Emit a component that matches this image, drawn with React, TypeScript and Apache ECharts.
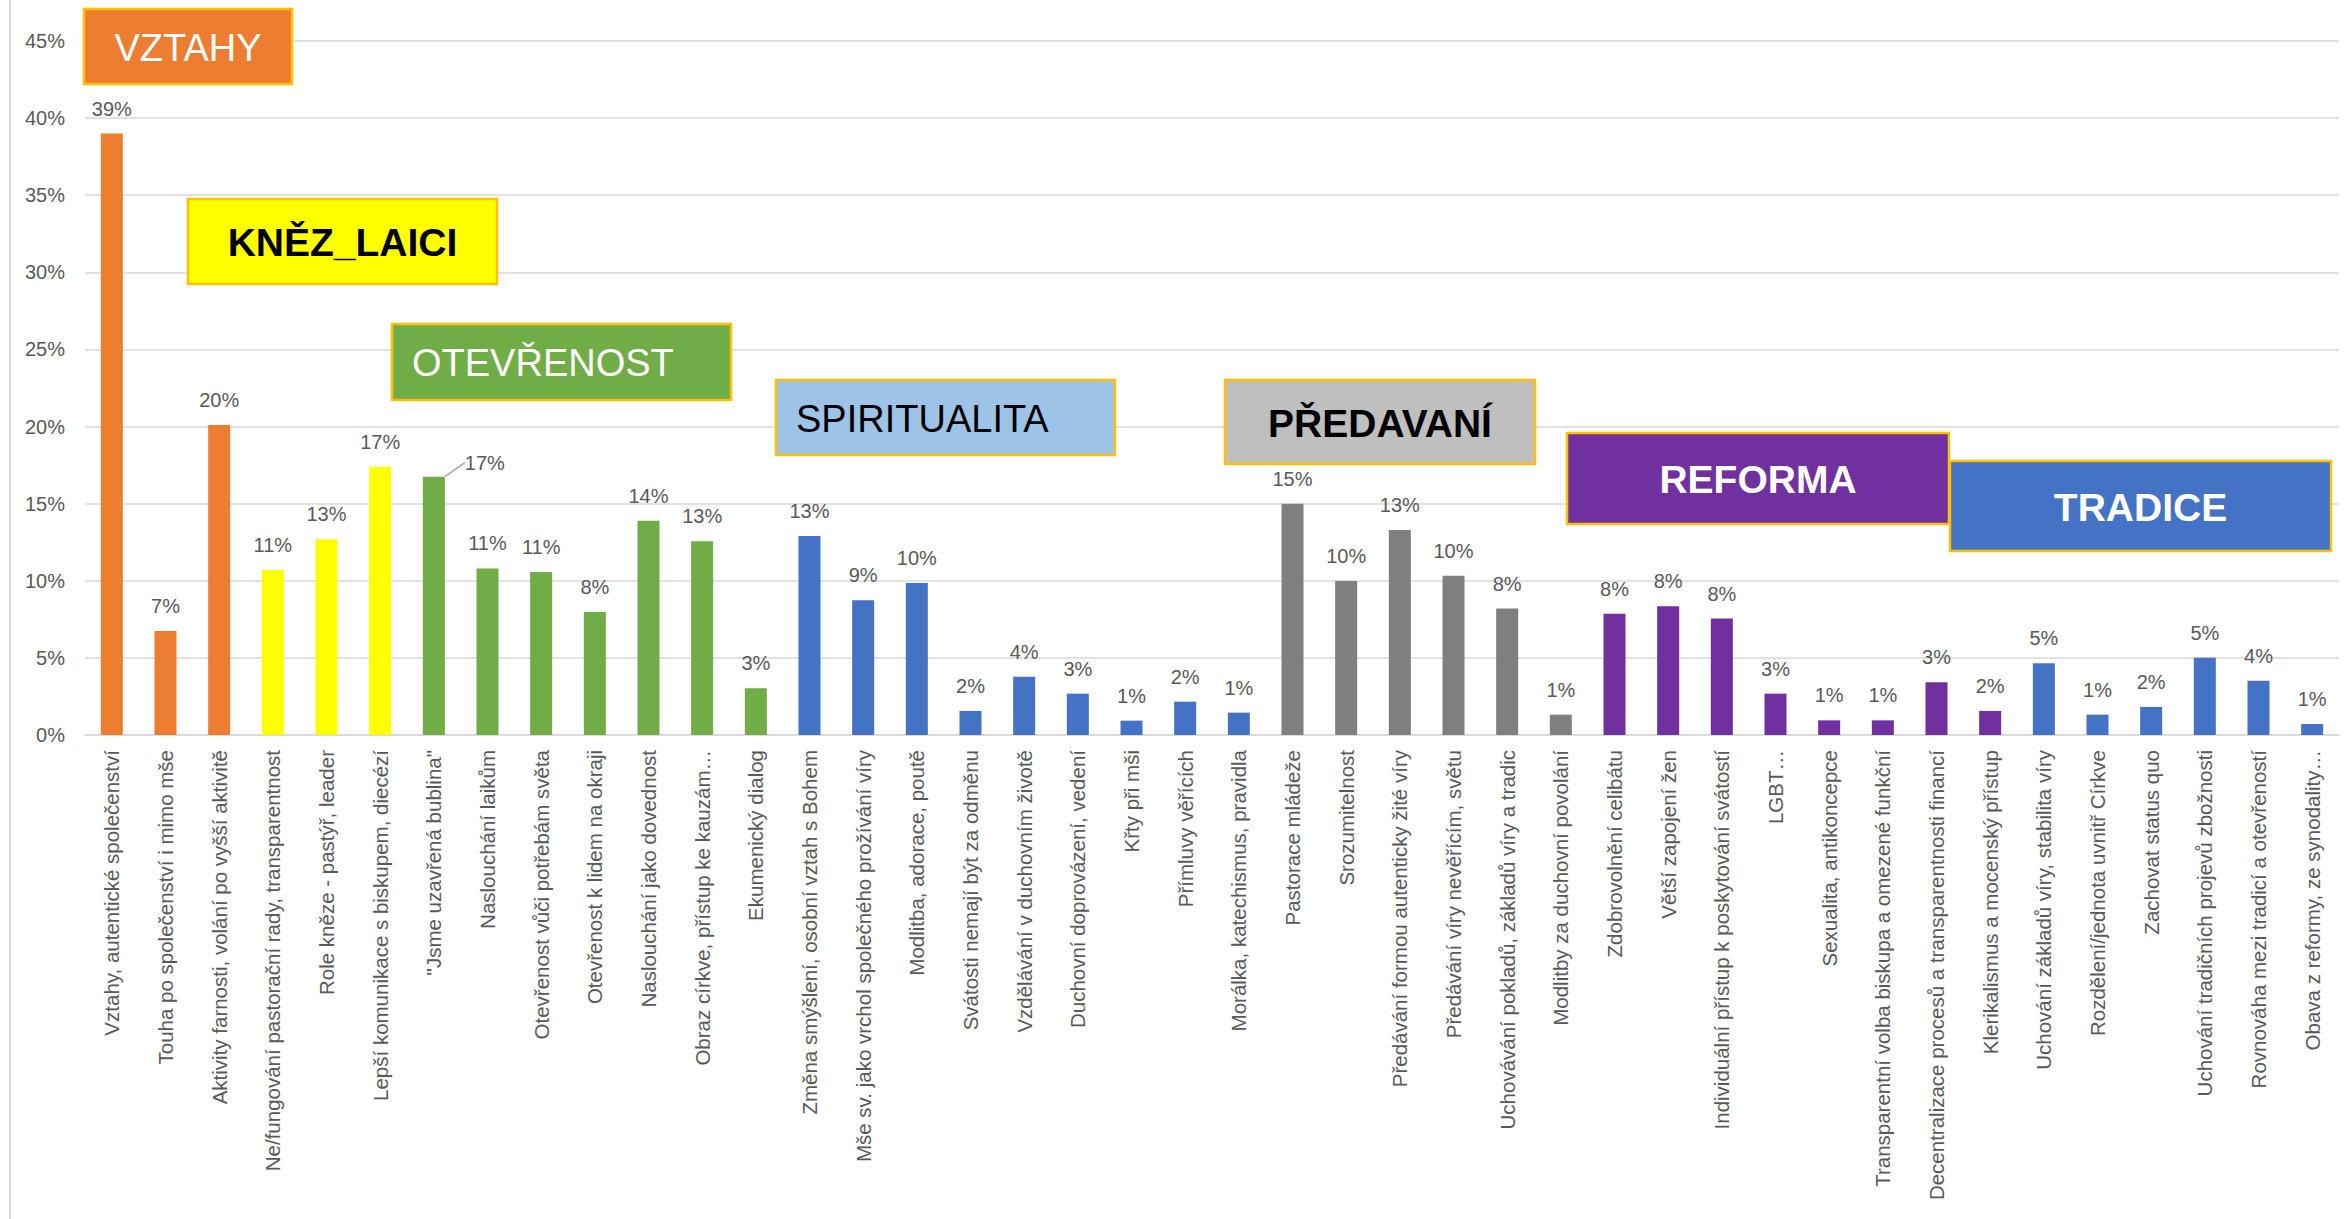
import React, { useEffect, useRef } from "react";
import * as echarts from "echarts";

const categories: string[] = [
  "Vztahy, autentické společenství",
  "Touha po společenství i mimo mše",
  "Aktivity farnosti, volání po vyšší aktivitě",
  "Ne/fungování pastorační rady, transparentnost",
  "Role kněze - pastýř, leader",
  "Lepší komunikace s biskupem, diecézí",
  "\"Jsme uzavřená bublina\"",
  "Naslouchání laikům",
  "Otevřenost vůči potřebám světa",
  "Otevřenost k lidem na okraji",
  "Naslouchání jako dovednost",
  "Obraz církve, přístup ke kauzám…",
  "Ekumenický dialog",
  "Změna smýšlení, osobní vztah s Bohem",
  "Mše sv. jako vrchol společného prožívání víry",
  "Modlitba, adorace, poutě",
  "Svátosti nemají být za odměnu",
  "Vzdělávání v duchovním životě",
  "Duchovní doprovázení, vedení",
  "Křty při mši",
  "Přímluvy věřících",
  "Morálka, katechismus, pravidla",
  "Pastorace mládeže",
  "Srozumitelnost",
  "Předávání formou autenticky žité víry",
  "Předávání víry nevěřícím, světu",
  "Uchovávání pokladů, základů víry a tradic",
  "Modlitby za duchovní povolání",
  "Zdobrovolnění celibátu",
  "Větší zapojení žen",
  "Individuální přístup k poskytování svátostí",
  "LGBT…",
  "Sexualita, antikoncepce",
  "Transparentní volba biskupa a omezené funkční",
  "Decentralizace procesů a transparentnosti financí",
  "Klerikalismus a mocenský přístup",
  "Uchování základů víry, stabilita víry",
  "Rozdělení/jednota uvnitř Církve",
  "Zachovat status quo",
  "Uchování tradičních projevů zbožnosti",
  "Rovnováha mezi tradicí a otevřeností",
  "Obava z reformy, ze synodality…",
];

// percent of respondents
const values: number[] = [
  39.0, 6.74, 20.1, 10.7, 12.7, 17.4, 16.75, 10.8, 10.57, 7.98, 13.9, 12.56, 3.03,
  12.9, 8.73, 9.86, 1.56, 3.78, 2.68, 0.93, 2.16, 1.45,
  15.0, 9.99, 13.3, 10.33, 8.2, 1.32,
  7.87, 8.35, 7.55, 2.68, 0.95, 0.95, 3.42, 1.56,
  4.65, 1.32, 1.82, 5.01, 3.52, 0.71,
];

const groupNames: string[] = [
  "VZTAHY", "KNĚZ_LAICI", "OTEVŘENOST", "SPIRITUALITA", "PŘEDAVANÍ", "REFORMA", "TRADICE",
];
const groupSizes: number[] = [3, 3, 7, 9, 6, 8, 6];

const yMin = 0;
const yMax = 45;
const yStep = 5;

// index of the bar whose label is pulled aside with a leader line
const calloutIndex = 6;

// styles
const barColorByGroup: Record<string, string> = {
  VZTAHY: "#ED7D31",
  KNĚZ_LAICI: "#FFFF00",
  OTEVŘENOST: "#70AD47",
  SPIRITUALITA: "#4472C4",
  PŘEDAVANÍ: "#7F7F7F",
  REFORMA: "#7030A0",
  TRADICE: "#4472C4",
};

const FONT = "'Liberation Sans', Arial, sans-serif";

const boxes = [
  { name: "VZTAHY", x: 84, y: 9, w: 208, h: 75, fill: "#ED7D31", color: "#FFFFFF", bold: false, align: "center" },
  { name: "KNĚZ_LAICI", x: 188, y: 199, w: 309, h: 85, fill: "#FFFF00", color: "#000000", bold: true, align: "center" },
  { name: "OTEVŘENOST", x: 392, y: 324, w: 339, h: 76, fill: "#70AD47", color: "#FFFFFF", bold: false, align: "left" },
  { name: "SPIRITUALITA", x: 776, y: 380, w: 339, h: 75, fill: "#9DC3E6", color: "#000000", bold: false, align: "left" },
  { name: "PŘEDAVANÍ", x: 1225, y: 380, w: 310, h: 84, fill: "#BFBFBF", color: "#000000", bold: true, align: "center" },
  { name: "REFORMA", x: 1567, y: 433, w: 382, h: 91, fill: "#7030A0", color: "#FFFFFF", bold: true, align: "center" },
  { name: "TRADICE", x: 1950, y: 461, w: 381, h: 90, fill: "#4472C4", color: "#FFFFFF", bold: true, align: "center" },
];

export default function App() {
  const ref = useRef<HTMLDivElement>(null);

  useEffect(() => {
    if (!ref.current) return;
    const chart = echarts.init(ref.current, undefined, { renderer: "svg" });

    const groupOf: string[] = [];
    groupNames.forEach((g, i) => {
      for (let k = 0; k < groupSizes[i]; k++) groupOf.push(g);
    });

    const graphics: any[] = [
      {
        type: "line",
        shape: { x1: 10, y1: 0, x2: 10, y2: 1219 },
        style: { stroke: "#D9D9D9", lineWidth: 2 },
        z: 1,
      },
    ];
    boxes.forEach((b) => {
      const tx = b.align === "center" ? b.x + b.w / 2 : b.x + 20;
      graphics.push({
        type: "rect",
        z: 100,
        zlevel: 0,
        shape: { x: b.x, y: b.y, width: b.w, height: b.h },
        style: { fill: b.fill, stroke: "#FFC000", lineWidth: 2.5 },
      });
      graphics.push({
        type: "text",
        z: 101,
        zlevel: 0,
        x: tx,
        y: b.y + b.h / 2 + 1,
        style: {
          text: b.name,
          fill: b.color,
          fontSize: b.bold ? 39 : 38,
          fontWeight: b.bold ? "bold" : "normal",
          fontFamily: FONT,
          align: b.align,
          verticalAlign: "middle",
          textAlign: b.align,
          textVerticalAlign: "middle",
        },
      });
    });

    chart.setOption({
      animation: false,
      backgroundColor: "#FFFFFF",
      grid: { left: 85, right: 7, top: 41, bottom: 484, containLabel: false },
      xAxis: {
        type: "category",
        data: categories,
        axisTick: { show: false },
        axisLine: { lineStyle: { color: "#D9D9D9", width: 1.5 } },
        axisLabel: {
          interval: 0,
          rotate: 90,
          margin: 15,
          color: "#595959",
          fontSize: 20.5,
          fontFamily: FONT,
        },
      },
      yAxis: {
        type: "value",
        min: yMin,
        max: yMax,
        interval: yStep,
        axisLine: { show: false },
        axisTick: { show: false },
        splitLine: { lineStyle: { color: "#D9D9D9", width: 1.5 } },
        axisLabel: {
          formatter: "{value}%",
          color: "#595959",
          fontSize: 20,
          margin: 20,
          fontFamily: FONT,
        },
      },
      series: [
        {
          type: "bar",
          barWidth: 22,
          data: values.map((v, i) =>
            i === calloutIndex
              ? { value: v, labelLine: { show: true, lineStyle: { color: "#A6A6A6", width: 1.5 } } }
              : v
          ),
          itemStyle: {
            color: (p: any) => barColorByGroup[groupOf[p.dataIndex]],
          },
          label: {
            show: true,
            position: "top",
            distance: 15,
            color: "#595959",
            fontSize: 20,
            fontFamily: FONT,
            formatter: (p: any) => Math.round(p.value) + "%",
          },
          labelLayout: (p: any) => (p.dataIndex === calloutIndex ? { dx: 51, dy: 11 } : {}),
        },
      ],
      graphic: graphics,
    });

    return () => chart.dispose();
  }, []);

  return (
    <div
      ref={ref}
      style={{ position: "fixed", left: 0, top: 0, width: 2346, height: 1219, background: "#fff" }}
    />
  );
}
